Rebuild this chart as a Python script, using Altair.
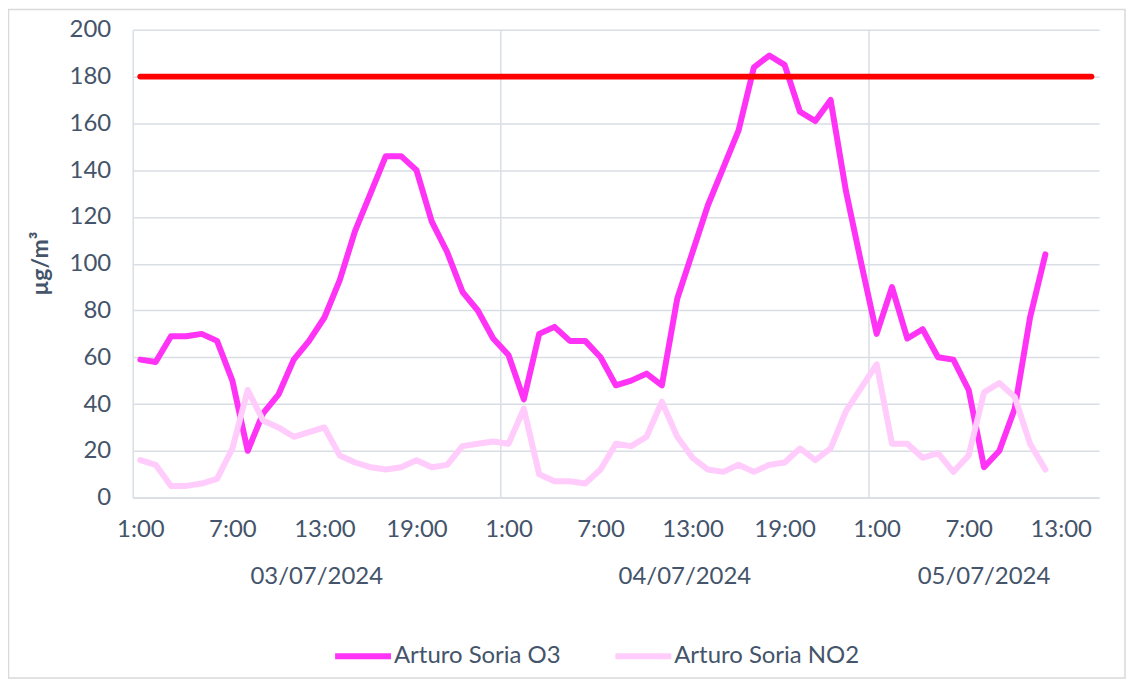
import altair as alt
import pandas as pd

# ---------------- data ----------------
dates = ["03/07/2024", "04/07/2024", "05/07/2024"]
hours_per_day = [24, 24, 15]
hour_labels = [f"{h}:00" for n in hours_per_day for h in range(1, n + 1)]
tick_step = 6

series_names = ["Arturo Soria O3", "Arturo Soria NO2"]
series_colors = ["#FF33F6", "#FFCCFB"]

o3 = [59, 58, 69, 69, 70, 67, 50, 20, 36, 44,
      59, 67, 77, 93, 114, 130, 146, 146, 140, 118,
      105, 88, 80, 68, 61, 42, 70, 73, 67, 67,
      60, 48, 50, 53, 48, 85, 105, 125, 141, 157,
      184, 189, 185, 165, 161, 170, 131, 100, 70, 90,
      68, 72, 60, 59, 46, 13, 20, 38, 77, 104]
no2 = [16, 14, 5, 5, 6, 8, 21, 46, 33, 30,
       26, 28, 30, 18, 15, 13, 12, 13, 16, 13,
       14, 22, 23, 24, 23, 38, 10, 7, 7, 6,
       12, 23, 22, 26, 41, 26, 17, 12, 11, 14,
       11, 14, 15, 21, 16, 21, 37, 47, 57, 23,
       23, 17, 19, 11, 18, 45, 49, 43, 23, 12]
threshold = 180
y_ticks = [0, 20, 40, 60, 80, 100, 120, 140, 160, 180, 200]

# ---------------- tables ----------------
n_cat = len(hour_labels)
df = pd.DataFrame({
    "i": list(range(len(o3))) + list(range(len(no2))),
    "v": o3 + no2,
    "s": [series_names[0]] * len(o3) + [series_names[1]] * len(no2),
})
starts = [sum(hours_per_day[:k]) for k in range(len(hours_per_day))]
date_df = pd.DataFrame({
    "i": [s + (n - 1) / 2 for s, n in zip(starts, hours_per_day)],
    "d": dates,
})
bound_df = pd.DataFrame({"i": [s - 0.5 for s in starts[1:]]})
thr_df = pd.DataFrame({"i": [0], "i2": [n_cat - 1], "v": [threshold]})

# ---------------- style ----------------
W, H = 969, 469
TXT = "#44546A"
GRID = "#D9DEE5"
FONT = "Lato"
AX_FS = 24

x_scale = alt.Scale(domain=[-0.5, n_cat - 0.5], nice=False, zero=False)
y_scale = alt.Scale(domain=[0, 200], nice=False)

label_expr = "[" + ",".join(f"'{h}'" for h in hour_labels) + "][datum.value]"
x_axis = alt.Axis(values=list(range(0, n_cat, tick_step)), labelExpr=label_expr,
                  title=None, grid=False, ticks=False, domainColor=GRID, domainWidth=1.5,
                  labelFont=FONT, labelFontSize=AX_FS, labelColor=TXT, labelPadding=20)
y_axis = alt.Axis(values=y_ticks, title="µg/m³", titleFont=FONT, titleFontSize=23,
                  titleFontWeight="bold", titleColor=TXT, titleX=-92, titleY=234,
                  titleBaseline="middle", titleAlign="center",
                  labelFont=FONT, labelFontSize=AX_FS, labelColor=TXT, labelPadding=22,
                  ticks=False, domainColor=GRID, domainWidth=1.5,
                  gridColor=GRID, gridWidth=1.5)

X = alt.X("i:Q", scale=x_scale, axis=x_axis)
Y = alt.Y("v:Q", scale=y_scale, axis=y_axis)

color = alt.Color("s:N", scale=alt.Scale(domain=series_names, range=series_colors),
                  legend=alt.Legend(title=None, orient="none", legendX=200, legendY=597,
                                    direction="horizontal", symbolType="stroke",
                                    symbolSize=3136, symbolStrokeWidth=6,
                                    labelFont=FONT, labelFontSize=AX_FS, labelColor=TXT,
                                    labelLimit=400, labelOffset=0, columnPadding=42))

base = alt.Chart(df).encode(x=X, y=Y, color=color)
line_kw = dict(strokeWidth=6, strokeCap="round", strokeJoin="round")
o3_line = base.transform_filter(alt.datum.s == series_names[0]).mark_line(**line_kw)
no2_line = base.transform_filter(alt.datum.s == series_names[1]).mark_line(**line_kw)

vgrid = alt.Chart(bound_df).mark_rule(color=GRID, strokeWidth=1.5).encode(x=X)

thr = alt.Chart(thr_df).mark_rule(color="#FF0000", strokeWidth=6, strokeCap="round").encode(
    x=X, x2="i2:Q", y=Y)

date_text = alt.Chart(date_df).mark_text(font=FONT, fontSize=AX_FS, color=TXT, baseline="middle").encode(
    x=X, y=alt.value(H + 80), text="d:N")

frame = alt.Chart(pd.DataFrame({"a": [0]})).mark_rect(
    fill="transparent", stroke="#D9D9D9", strokeWidth=1.5).encode(
    x=alt.value(-124.5), x2=alt.value(995), y=alt.value(-20.5), y2=alt.value(650))

chart = alt.layer(frame, vgrid, o3_line, no2_line, thr, date_text).properties(
    width=W, height=H,
    padding={"left": 125, "top": 21, "right": 27, "bottom": 182},
    autosize=alt.AutoSizeParams(type="none"),
    background="white",
).configure_view(stroke=None)

chart.save("out.html", embed_options={"renderer": "svg", "actions": False})
